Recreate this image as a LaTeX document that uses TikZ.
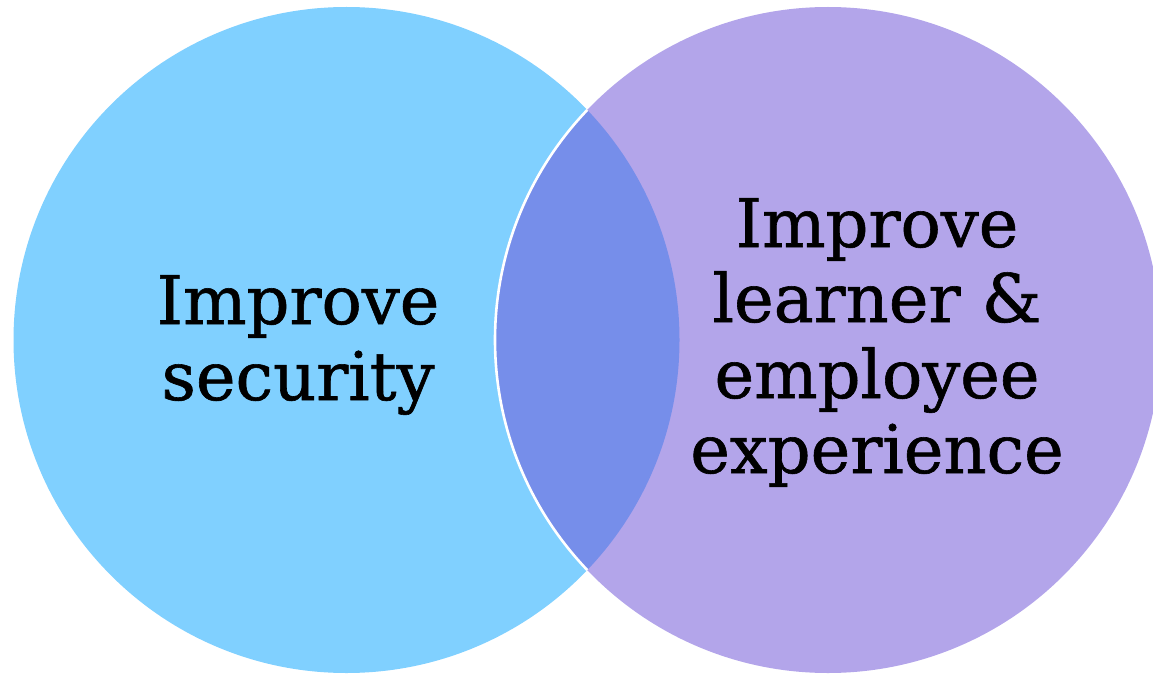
\documentclass[tikz,border=0pt]{standalone}
\usepackage{fontspec}
\setmainfont{DejaVu Serif}[FakeBold=0.9]
\definecolor{secblue}{RGB}{128,208,255}
\definecolor{expviolet}{RGB}{179,165,234}
\definecolor{overlapblue}{RGB}{118,142,234}
\begin{document}
\begin{tikzpicture}[x=1pt,y=-1pt,
  label text/.style={font=\fontsize{67}{75}\selectfont, align=center, text=black, inner sep=0pt}]
  \useasboundingbox (0,0) rectangle (1153,674);
  \begin{scope}
    \clip (0,0) rectangle (1153,674);
    % the two sets
    \fill[secblue] (346.5,340) circle (333);
    \fill[expviolet] (828,340) circle (333);
    % overlap region
    \begin{scope}
      \clip (346.5,340) circle (333);
      \fill[overlapblue] (828,340) circle (333);
      \draw[white, line width=2.6pt] (828,340) circle (333);
    \end{scope}
  \end{scope}
  % labels
  \node[label text, anchor=base] (sec1) at (298,324) {Improve};
  \node[label text, anchor=base] (sec2) at (298,400) {security};
  \node[label text, anchor=base] (exp1) at (877,247) {Improve};
  \node[label text, anchor=base] (exp2) at (877,322) {learner \&};
  \node[label text, anchor=base] (exp3) at (877,398) {employee};
  \node[label text, anchor=base] (exp4) at (877,473) {experience};
\end{tikzpicture}
\end{document}
